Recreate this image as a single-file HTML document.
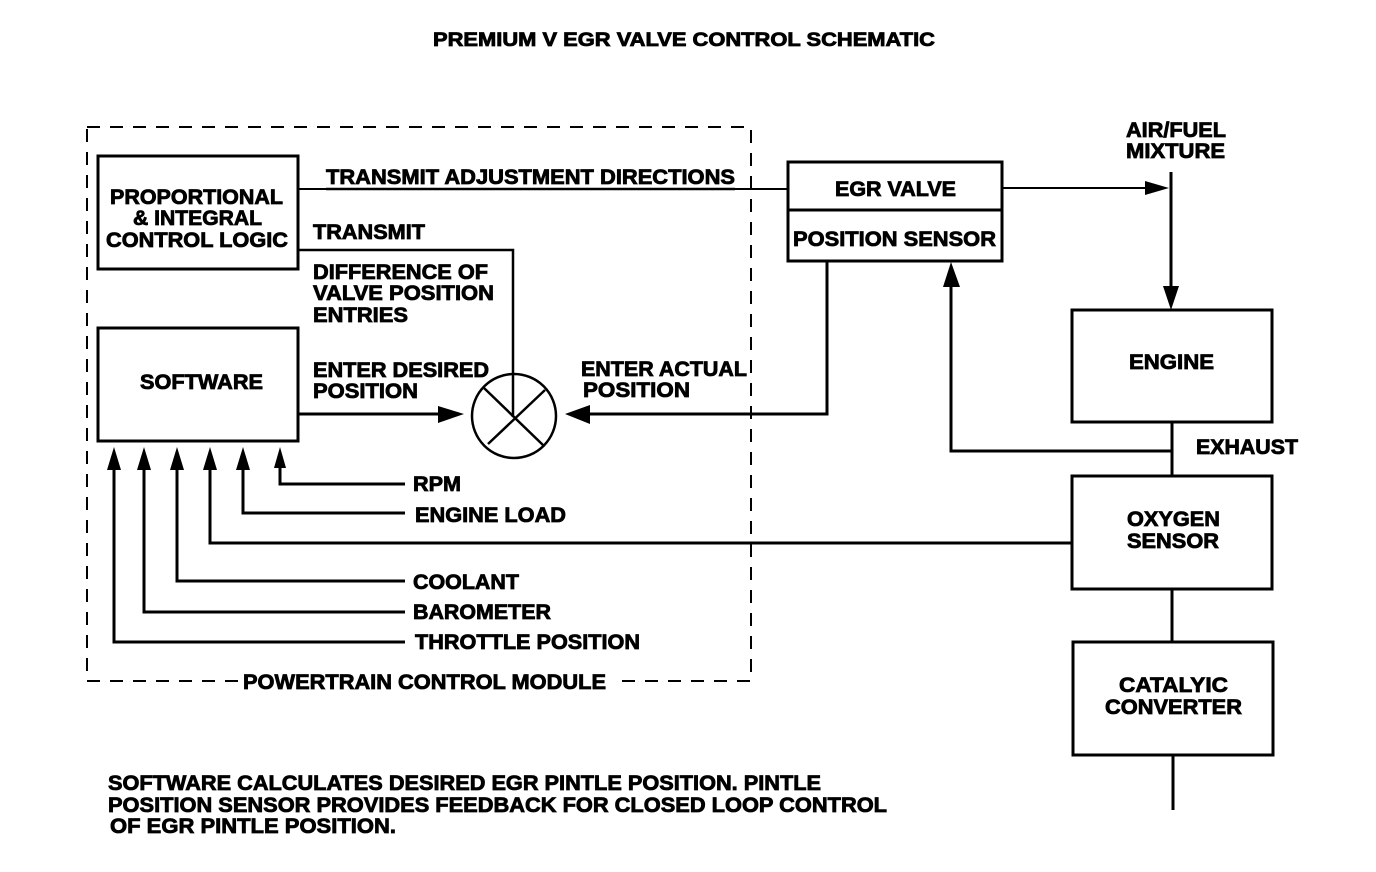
<!DOCTYPE html>
<html><head><meta charset="utf-8"><style>
html,body{margin:0;padding:0;background:#fff}
svg{display:block}
text{font-family:"Liberation Sans",Arial,sans-serif;font-weight:bold;font-size:21px;fill:#000;stroke:#000;stroke-width:.8px}
</style></head><body>
<svg width="1376" height="872" viewBox="0 0 1376 872" xmlns="http://www.w3.org/2000/svg">
<rect width="1376" height="872" fill="#fff"/>
<text x="433" y="46" textLength="502" lengthAdjust="spacingAndGlyphs" style="font-size:19px">PREMIUM V EGR VALVE CONTROL SCHEMATIC</text>
<g fill="none" stroke="#000">
<path d="M87 127H751V681H612M238 681H87V127" stroke-width="2" stroke-dasharray="13 10"/>
<g stroke-width="3">
<rect x="98" y="156" width="200" height="113"/>
<rect x="98" y="328" width="200" height="113"/>
<rect x="788" y="162" width="214" height="99"/>
<path d="M788 210H1002"/>
<rect x="1072" y="310" width="200" height="112"/>
<rect x="1072" y="476" width="200" height="113"/>
<rect x="1073" y="642" width="200" height="113"/>
<circle cx="514" cy="416" r="42" stroke-width="2.5"/>
<path d="M484 388L544 446M545 390L488 444" stroke-width="2.5"/>
<path d="M298 250H513V417" stroke-width="2.5"/>
<path d="M298 414H445"/>
<path d="M827 261V414H590"/>
<path d="M1172 422V476M1172 589V642M1173 755V810"/>
<path d="M1172 451H951V285"/>
<path d="M1171 172V290"/>
<path d="M280 465V484H405"/>
<path d="M243 465V513H405"/>
<path d="M210 465V543H1072"/>
<path d="M177 465V581H405"/>
<path d="M144 465V612H405"/>
<path d="M114 465V642H405"/>
</g>
<path d="M298 189H788M1002 188H1145" stroke-width="2"/>
<path d="M326 189H735" stroke-width="2.6"/>
</g>
<g fill="#000">
<path d="M464 414L438 406V423Z"/>
<path d="M565 414L590 405V424Z"/>
<path d="M951 262L943 287H960Z"/>
<path d="M1169 188L1145 181V195Z"/>
<path d="M1171 310L1163 286H1179Z"/>
<path d="M280 447L274 468H286Z"/>
<path d="M243 447L236 470H250Z"/>
<path d="M210 447L203 470H217Z"/>
<path d="M177 447L170 470H184Z"/>
<path d="M144 447L137 470H151Z"/>
<path d="M114 447L107 470H121Z"/>
</g>
<text x="110" y="204" textLength="173" lengthAdjust="spacingAndGlyphs">PROPORTIONAL</text>
<text x="133" y="225" textLength="129" lengthAdjust="spacingAndGlyphs">&amp; INTEGRAL</text>
<text x="106" y="247" textLength="182" lengthAdjust="spacingAndGlyphs">CONTROL LOGIC</text>
<text x="140" y="389" textLength="123" lengthAdjust="spacingAndGlyphs">SOFTWARE</text>
<text x="326" y="184" textLength="409" lengthAdjust="spacingAndGlyphs">TRANSMIT ADJUSTMENT DIRECTIONS</text>
<text x="313" y="239" textLength="112" lengthAdjust="spacingAndGlyphs">TRANSMIT</text>
<text x="313" y="279" textLength="175" lengthAdjust="spacingAndGlyphs">DIFFERENCE OF</text>
<text x="313" y="300" textLength="181" lengthAdjust="spacingAndGlyphs">VALVE POSITION</text>
<text x="313" y="322" textLength="95" lengthAdjust="spacingAndGlyphs">ENTRIES</text>
<text x="313" y="377" textLength="176" lengthAdjust="spacingAndGlyphs">ENTER DESIRED</text>
<text x="313" y="398" textLength="105" lengthAdjust="spacingAndGlyphs">POSITION</text>
<text x="581" y="376" textLength="166" lengthAdjust="spacingAndGlyphs">ENTER ACTUAL</text>
<text x="583" y="397" textLength="107" lengthAdjust="spacingAndGlyphs">POSITION</text>
<text x="835" y="196" textLength="121" lengthAdjust="spacingAndGlyphs">EGR VALVE</text>
<text x="793" y="246" textLength="203" lengthAdjust="spacingAndGlyphs">POSITION SENSOR</text>
<text x="1126" y="137" textLength="100" lengthAdjust="spacingAndGlyphs">AIR/FUEL</text>
<text x="1126" y="158" textLength="99" lengthAdjust="spacingAndGlyphs">MIXTURE</text>
<text x="1129" y="369" textLength="85" lengthAdjust="spacingAndGlyphs">ENGINE</text>
<text x="1196" y="454" textLength="102" lengthAdjust="spacingAndGlyphs">EXHAUST</text>
<text x="1127" y="526" textLength="93" lengthAdjust="spacingAndGlyphs">OXYGEN</text>
<text x="1127" y="548" textLength="92" lengthAdjust="spacingAndGlyphs">SENSOR</text>
<text x="1119" y="692" textLength="109" lengthAdjust="spacingAndGlyphs">CATALYIC</text>
<text x="1105" y="714" textLength="137" lengthAdjust="spacingAndGlyphs">CONVERTER</text>
<text x="413" y="491" textLength="48" lengthAdjust="spacingAndGlyphs">RPM</text>
<text x="415" y="522" textLength="151" lengthAdjust="spacingAndGlyphs">ENGINE LOAD</text>
<text x="413" y="589" textLength="106" lengthAdjust="spacingAndGlyphs">COOLANT</text>
<text x="413" y="619" textLength="138" lengthAdjust="spacingAndGlyphs">BAROMETER</text>
<text x="415" y="649" textLength="225" lengthAdjust="spacingAndGlyphs">THROTTLE POSITION</text>
<text x="243" y="689" textLength="363" lengthAdjust="spacingAndGlyphs">POWERTRAIN CONTROL MODULE</text>
<text x="108" y="790" textLength="713" lengthAdjust="spacingAndGlyphs">SOFTWARE CALCULATES DESIRED EGR PINTLE POSITION. PINTLE</text>
<text x="108" y="812" textLength="779" lengthAdjust="spacingAndGlyphs">POSITION SENSOR PROVIDES FEEDBACK FOR CLOSED LOOP CONTROL</text>
<text x="110" y="833" textLength="286" lengthAdjust="spacingAndGlyphs">OF EGR PINTLE POSITION.</text>
</svg>
</body></html>
